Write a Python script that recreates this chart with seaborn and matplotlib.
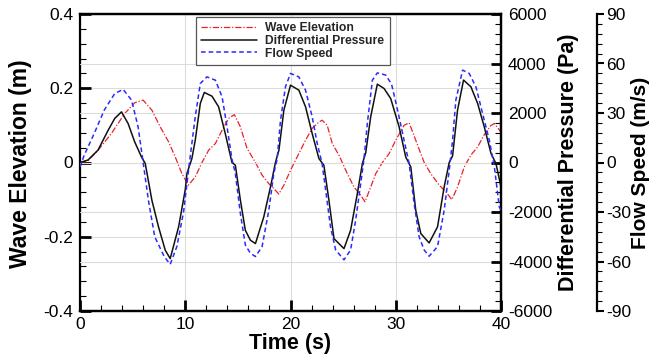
import numpy as np
import pandas as pd
import matplotlib
matplotlib.use("Agg")
import matplotlib.pyplot as plt
from matplotlib.ticker import MultipleLocator, FuncFormatter
import seaborn as sns

# ---------------- data ----------------
wave_t = [0, 0.76, 1.71, 2.98, 4.25, 5.2, 6.0, 6.83, 7.62, 8.41, 9.05, 9.68, 10.3,
          10.95, 11.59, 12.22, 12.86, 13.5, 14.13, 14.67, 15.24, 15.87, 16.67, 17.3,
          17.94, 18.41, 18.89, 19.37, 20.0, 20.79, 21.43, 22.06, 22.7, 23.0, 23.49,
          23.97, 24.6, 25.4, 26.03, 26.67, 27.08, 27.62, 28.1, 28.73, 29.37, 30.0,
          30.79, 31.27, 31.9, 32.7, 33.33, 34.13, 34.76, 35.33, 35.87, 36.51, 37.14,
          37.78, 38.41, 39.05, 39.37, 40.0]
wave_elev = [0, 0.005, 0.033, 0.078, 0.132, 0.161, 0.168, 0.141, 0.096, 0.056, 0.015,
             -0.030, -0.061, -0.039, 0.0, 0.033, 0.051, 0.087, 0.119, 0.129, 0.096,
             0.038, 0.0, -0.034, -0.057, -0.070, -0.085, -0.061, -0.021, 0.024, 0.060,
             0.092, 0.109, 0.114, 0.100, 0.051, 0.020, -0.030, -0.066, -0.088, -0.106,
             -0.066, -0.030, 0.0, 0.024, 0.060, 0.100, 0.107, 0.060, 0.0, -0.030,
             -0.061, -0.079, -0.100, -0.066, -0.012, 0.020, 0.042, 0.075, 0.100,
             0.105, 0.082]

dp_t = [0, 0.76, 1.71, 2.67, 3.3, 3.94, 4.57, 5.2, 5.84, 6.2, 6.83, 7.46, 8.1, 8.57,
        9.37, 10.0, 10.16, 10.63, 10.95, 11.43, 11.81, 12.54, 13.17, 13.8, 14.44, 14.76,
        15.24, 15.71, 16.19, 16.67, 17.46, 18.1, 18.57, 18.9, 19.37, 20.0, 20.79, 21.43,
        22.06, 22.7, 23.17, 23.65, 24.13, 25.08, 25.71, 26.35, 26.83, 27.14, 27.62,
        28.25, 28.89, 29.52, 30.32, 30.95, 31.43, 31.9, 32.38, 33.17, 33.97, 34.6,
        35.08, 35.4, 35.87, 36.44, 37.14, 37.78, 38.41, 39.05, 39.52, 40.0]
dp_pa = [0, 100, 500, 1300, 1780, 2046, 1575, 830, 226, -40, -1525, -2600, -3545, -3882,
         -2600, -1100, -445, 160, 900, 2385, 2830, 2680, 2250, 1170, 0, -110,
         -1525, -2740, -3140, -3275, -2200, -985, 0, 500, 2115, 3125, 2925, 2250,
         1170, 160, -110, -1525, -3075, -3480, -2740, -1255, -40, 380, 1845,
         3165, 2990, 2585, 1440, 220, -180, -1930, -2870, -3250, -2600, -985,
         0, 270, 2115, 3330, 3060, 2385, 1440, 365, -40, -985]

flow_t = [0, 0.4, 1.35, 2.3, 3.3, 4.1, 4.9, 5.52, 6.0, 6.5, 7.1, 8.0, 8.57, 9.2, 9.84,
          10.4, 10.95, 11.43, 12.06, 12.86, 13.5, 13.97, 14.44, 14.76, 15.24, 15.71,
          16.19, 16.67, 17.3, 17.94, 18.41, 18.73, 19.05, 19.52, 20.0, 20.79, 21.43,
          22.06, 22.54, 23.0, 23.3, 23.8, 24.29, 25.08, 25.71, 26.19, 26.67, 26.98,
          27.3, 27.78, 28.25, 29.05, 29.6, 30.2, 30.79, 31.27, 31.75, 32.22, 32.7,
          33.17, 33.97, 34.6, 35.08, 35.4, 35.71, 36.35, 36.98, 37.62, 38.25, 38.89,
          39.37, 39.84, 40.0]
flow_ms = [-2.7, 4.4, 17.6, 31.7, 41.8, 44.3, 37.8, 21.6, 0, -22.9, -45, -57, -61.7,
           -51, -30, 0, 27.7, 47.9, 51.9, 49.9, 39.8, 21.6, 2, -6.7, -31, -50, -55,
           -57, -51, -29, -6.7, 2, 25.6, 45.8, 54, 51.9, 43.8, 27.7, 11.5, -0.6,
           -14.8, -39, -53, -59, -53, -35, -12.8, 2, 23.6, 49.9, 54.3, 53, 47.5,
           31, 13.5, -0.6, -25, -45, -53, -56.8, -51, -29, -4.7, 13.5, 37.8, 56,
           54, 45.8, 29.7, 13.5, -2.7, -27, -29]

labels = ["Wave Elevation", "Differential Pressure", "Flow Speed"]

wave_df = pd.DataFrame({"t": wave_t, "v": wave_elev})
dp_df = pd.DataFrame({"t": dp_t, "v": dp_pa})
flow_df = pd.DataFrame({"t": flow_t, "v": flow_ms})

# ---------------- style ----------------
sns.set_theme(style="white")
plt.rcParams["font.family"] = ["Liberation Sans", "DejaVu Sans"]
plt.rcParams["axes.unicode_minus"] = False

W, H = 650, 361
fig = plt.figure(figsize=(6.5, 3.61), dpi=100)
L, R, T, B = 80, 501, 14, 311
ax = fig.add_axes([L / W, 1 - B / H, (R - L) / W, (B - T) / H])
ax2 = ax.twinx()
ax3 = ax.twinx()
ax3.spines["right"].set_position(("outward", 96 * 72 / 100))

red, black, blue = "#e8222a", "#111111", "#2a2aff"

sns.lineplot(data=wave_df, x="t", y="v", ax=ax, sort=False, estimator=None,
             color=red, linewidth=0.9, linestyle=(0, (5, 1.5, 1, 1.5)), label=labels[0], legend=False)
sns.lineplot(data=dp_df, x="t", y="v", ax=ax2, sort=False, estimator=None,
             color=black, linewidth=1.1, linestyle="-", label=labels[1], legend=False)
sns.lineplot(data=flow_df, x="t", y="v", ax=ax3, sort=False, estimator=None,
             color=blue, linewidth=1.1, linestyle=(0, (3, 2)), label=labels[2], legend=False)

ax.set_xlim(0, 40)
ax.set_ylim(-0.4, 0.4)
ax2.set_ylim(-6000, 6000)
ax3.set_ylim(-90, 90)

fmt = FuncFormatter(lambda v, p: "%g" % round(v, 6))
ax.xaxis.set_major_locator(MultipleLocator(10))
ax.xaxis.set_minor_locator(MultipleLocator(2))
ax.yaxis.set_major_locator(MultipleLocator(0.2))
ax.yaxis.set_minor_locator(MultipleLocator(0.04))
ax.yaxis.set_major_formatter(fmt)
ax.xaxis.set_major_formatter(fmt)
ax2.yaxis.set_major_locator(MultipleLocator(2000))
ax2.yaxis.set_minor_locator(MultipleLocator(400))
ax2.yaxis.set_major_formatter(fmt)
ax3.yaxis.set_major_locator(MultipleLocator(30))
ax3.yaxis.set_minor_locator(MultipleLocator(6))
ax3.yaxis.set_major_formatter(fmt)

tick_fs = 12.5
ax.tick_params(axis="both", which="both", direction="in", colors="black",
               labelsize=tick_fs, top=False, right=False, left=True, bottom=True)
ax.tick_params(axis="y", which="major", length=8, width=2, pad=5)
ax.tick_params(axis="y", which="minor", length=4.5, width=0.8)
ax.tick_params(axis="x", which="major", length=8, width=2, pad=4)
ax.tick_params(axis="x", which="minor", length=4.5, width=0.8)
ax2.tick_params(axis="y", which="both", direction="in", labelsize=tick_fs, colors="black")
ax2.tick_params(axis="y", which="major", length=7, width=2, pad=5)
ax2.tick_params(axis="y", which="minor", length=4.5, width=0.8)
ax3.tick_params(axis="y", which="both", direction="out", labelsize=tick_fs, colors="black")
ax3.tick_params(axis="y", which="major", length=5, width=1.5, pad=1.5)
ax3.tick_params(axis="y", which="minor", length=3.5, width=0.8)

for a in (ax, ax2):
    for s in a.spines.values():
        s.set_linewidth(1.6)
        s.set_color("black")
for name, s in ax3.spines.items():
    s.set_visible(name == "right")
ax3.spines["right"].set_linewidth(1.6)
ax3.spines["right"].set_color("black")
ax2.spines["left"].set_visible(False)

grid_kw = dict(color="#dcdcdc", linewidth=0.8)
ax.grid(True, which="major", axis="both", **grid_kw)
ax2.grid(True, which="major", axis="y", **grid_kw)
ax3.grid(False)
ax.set_axisbelow(True)

lab_kw = dict(fontweight="bold", color="black")
ax.set_xlabel("Time (s)", fontsize=15.5, **lab_kw)
ax.set_ylabel("Wave Elevation (m)", fontsize=16.5, **lab_kw)
ax2.set_ylabel("Differential Pressure (Pa)", fontsize=15.5, **lab_kw)
ax3.set_ylabel("Flow Speed (m/s)", fontsize=15, **lab_kw)
ax.xaxis.set_label_coords(0.5, (B - 333) / (B - T))
ax.yaxis.set_label_coords((32 - L) / (R - L), (B - 164) / (B - T))
ax2.yaxis.set_label_coords((558 - L) / (R - L), 0.5)
ax3.yaxis.set_label_coords((631 - L) / (R - L), 0.5)

handles = ax.get_lines()[:1] + ax2.get_lines()[:1] + ax3.get_lines()[:1]
leg = ax3.legend(handles, labels, loc="upper left",
                 bbox_to_anchor=(196 / W, 1 - 17 / H), bbox_transform=fig.transFigure,
                 prop={"weight": "bold", "size": 8.7}, frameon=True, fancybox=False,
                 framealpha=1, edgecolor="#555555", labelspacing=0.05,
                 handlelength=4.6, handletextpad=0.7, borderpad=0.45, borderaxespad=0)
leg.get_frame().set_linewidth(0.9)

fig.savefig("out.png", dpi=100)
